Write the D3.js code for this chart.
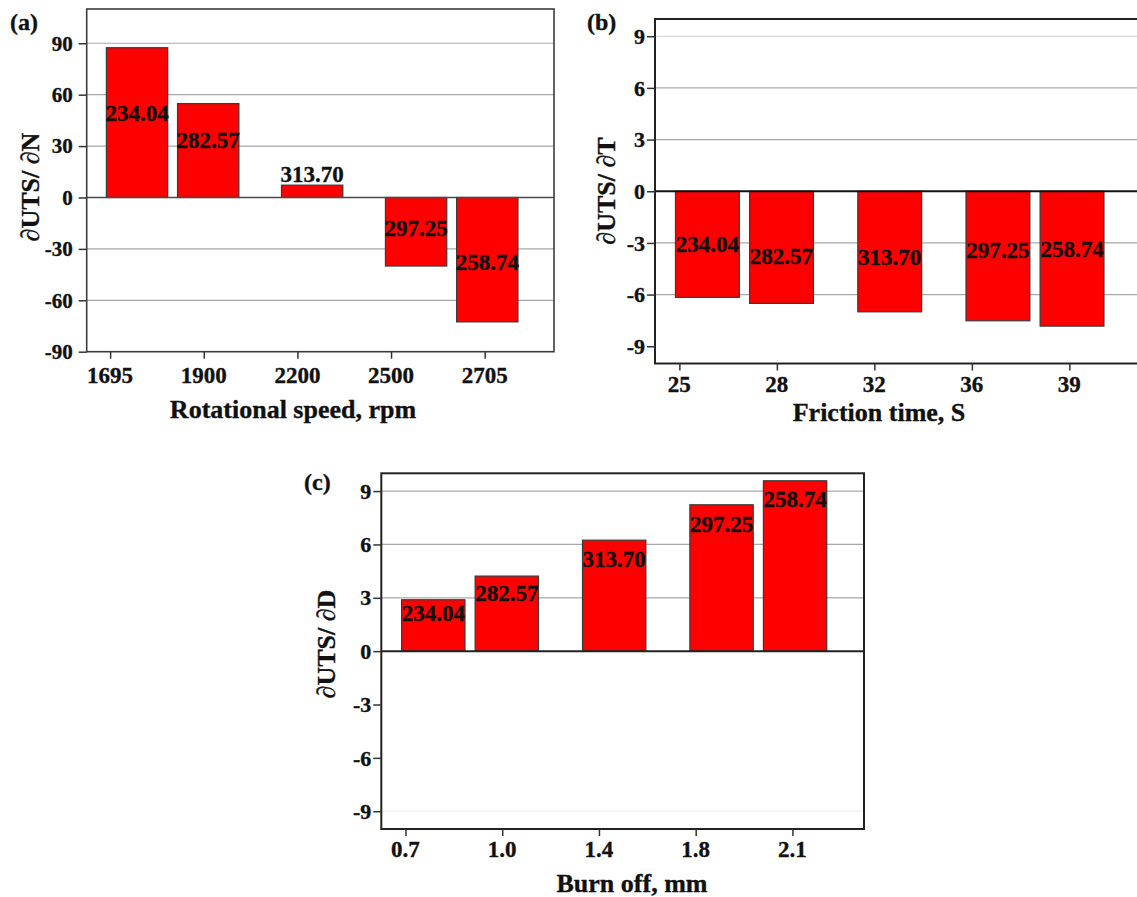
<!DOCTYPE html>
<html>
<head>
<meta charset="utf-8">
<script src="https://cdn.jsdelivr.net/npm/d3@7"></script>
<style>
  body { margin: 0; background: #fff; }
  svg { display: block; }
  text { font-family: "Liberation Serif", "Times New Roman", serif; font-weight: bold; fill: #111; stroke: #111; stroke-width: 0.35px; }
</style>
</head>
<body>
<svg id="fig" width="1137" height="897"></svg>
<script>
// UTS values written on the bars (same five runs in every panel)
const utsLabels = ["234.04", "282.57", "313.70", "297.25", "258.74"];

// (a) sensitivity to rotational speed
const speedCats = ["1695", "1900", "2200", "2500", "2705"];
const speedSens = [87.4, 54.8, 7.2, -40.0, -72.6];
const speedLabelAt = [49.4, 33.5, 13.8, -17.8, -37.9];
const speedTicks = [-90, -60, -30, 0, 30, 60, 90];

// (b) sensitivity to friction time
const timeCats = ["25", "28", "32", "36", "39"];
const timeSens = [-6.16, -6.51, -7.0, -7.52, -7.83];
const timeLabelAt = [-3.08, -3.76, -3.80, -3.41, -3.37];

// (c) sensitivity to burn off
const burnCats = ["0.7", "1.0", "1.4", "1.8", "2.1"];
const burnSens = [2.89, 4.22, 6.24, 8.23, 9.58];
const burnLabelAt = [2.14, 3.26, 5.17, 7.17, 8.55];

const unitTicks = [-9, -6, -3, 0, 3, 6, 9];

// ---- layout ----
const SX = 1.0;                                   // horizontal text stretch
const xDomain = [-0.25, 4.74];                    // category axis in tick units
const barSlots = [-0.04, 0.72, 1.83, 2.94, 3.70]; // left edge of each bar, tick units
const barSpan = 0.655;

const GRID = "#a9a9a9";

const panels = [
  {
    tag: "(a)", tagX: 10, tagY: 30,
    left: 86.7, right: 554, top: 9, bottom: 351.7,
    yDomain: [-90, 110], ticks: speedTicks,
    cats: speedCats, values: speedSens, labelAt: speedLabelAt,
    grid: [{v: 90, c: GRID}, {v: 60, c: GRID}, {v: 30, c: GRID}, {v: -30, c: GRID}, {v: -60, c: GRID}],
    zero: {c: "#4a4a4a", w: 1.6},
    frame: {c: "#3c3c3c", w: 1.6},
    yPad: 14, yFont: 21,
    xLabelDy: 31, xFont: 23,
    xTitle: "Rotational speed, rpm", xTitleX: 293, xTitleY: 418,
    yTitle: "\u2202UTS/ \u2202N", yTitleX: 30, yTitleY: 187
  },
  {
    tag: "(b)", tagX: 587, tagY: 30,
    left: 655, right: 1141.5, top: 19, bottom: 363.5,
    yDomain: [-10, 10], ticks: unitTicks,
    cats: timeCats, values: timeSens, labelAt: timeLabelAt,
    grid: [{v: 9, c: "#d2d2d2"}, {v: 6, c: GRID}, {v: 3, c: GRID}, {v: -3, c: GRID}, {v: -6, c: GRID}],
    zero: {c: "#111", w: 2.2},
    frame: {c: "#222", w: 2},
    yPad: 10, yFont: 22,
    xLabelDy: 28, xFont: 23,
    xTitle: "Friction time, S", xTitleX: 879, xTitleY: 421,
    yTitle: "\u2202UTS/ \u2202T", yTitleX: 606, yTitleY: 191
  },
  {
    tag: "(c)", tagX: 304, tagY: 490,
    left: 381.3, right: 864, top: 473.3, bottom: 829,
    yDomain: [-10, 10], ticks: unitTicks,
    cats: burnCats, values: burnSens, labelAt: burnLabelAt,
    grid: [{v: 9, c: GRID}, {v: 6, c: GRID}, {v: 3, c: GRID}, {v: -9, c: "#eeeeee"}],
    zero: {c: "#222", w: 2},
    frame: {c: "#222", w: 2},
    yPad: 10, yFont: 22,
    xLabelDy: 28, xFont: 23,
    xTitle: "Burn off, mm", xTitleX: 632, xTitleY: 892,
    yTitle: "\u2202UTS/ \u2202D", yTitleX: 326, yTitleY: 644
  }
];

const svg = d3.select("#fig");
svg.append("rect").attr("width", 1137).attr("height", 897).attr("fill", "#fff");

function putText(g, x, y, str, size, anchor, rotated) {
  return g.append("text")
    .attr("transform", rotated
      ? `translate(${x},${y}) rotate(-90) scale(1,${SX})`
      : `translate(${x},${y}) scale(${SX},1)`)
    .attr("text-anchor", anchor)
    .attr("font-size", size)
    .text(str);
}

function drawPanel(p) {
  const g = svg.append("g");
  const x = d3.scaleLinear().domain(xDomain).range([p.left, p.right]);
  const y = d3.scaleLinear().domain(p.yDomain).range([p.bottom, p.top]);

  // horizontal reference lines
  g.selectAll("line.grid").data(p.grid).join("line")
    .attr("class", "grid")
    .attr("x1", p.left).attr("x2", p.right)
    .attr("y1", d => y(d.v)).attr("y2", d => y(d.v))
    .attr("stroke", d => d.c).attr("stroke-width", 1.2);

  // bars
  g.selectAll("rect.bar").data(p.values).join("rect")
    .attr("class", "bar")
    .attr("x", (d, i) => x(barSlots[i]))
    .attr("width", (d, i) => x(barSlots[i] + barSpan) - x(barSlots[i]))
    .attr("y", d => y(Math.max(0, d)))
    .attr("height", d => Math.abs(y(d) - y(0)))
    .attr("fill", "#ff0000")
    .attr("stroke", "#3a3a3a")
    .attr("stroke-width", 1.2);

  // zero line
  g.append("line")
    .attr("x1", p.left).attr("x2", p.right)
    .attr("y1", y(0)).attr("y2", y(0))
    .attr("stroke", p.zero.c).attr("stroke-width", p.zero.w);

  // frame
  g.append("rect")
    .attr("x", p.left).attr("y", p.top)
    .attr("width", p.right - p.left).attr("height", p.bottom - p.top)
    .attr("fill", "none").attr("stroke", p.frame.c).attr("stroke-width", p.frame.w);

  // axis ticks
  const ay = g.append("g").attr("transform", `translate(${p.left},0)`)
    .call(d3.axisLeft(y).tickValues(p.ticks).tickSize(8).tickFormat(""));
  ay.select(".domain").remove();
  ay.selectAll("line").attr("stroke", "#333").attr("stroke-width", 1.5);

  const ax = g.append("g").attr("transform", `translate(0,${p.bottom})`)
    .call(d3.axisBottom(x).tickValues([0, 1, 2, 3, 4]).tickSize(7).tickFormat(""));
  ax.select(".domain").remove();
  ax.selectAll("line").attr("stroke", "#333").attr("stroke-width", 1.5);

  // tick labels
  p.ticks.forEach(v => {
    putText(g, p.left - p.yPad, y(v), String(v), p.yFont, "end").attr("dy", "0.35em");
  });
  p.cats.forEach((c, i) => {
    putText(g, x(i), p.bottom + p.xLabelDy, c, p.xFont, "middle");
  });

  // value labels on bars
  p.values.forEach((d, i) => {
    putText(g, x(barSlots[i] + barSpan / 2), y(p.labelAt[i]), utsLabels[i], 23, "middle")
      .attr("dy", "0.35em");
  });

  // titles
  putText(g, p.xTitleX, p.xTitleY, p.xTitle, 26, "middle");
  putText(g, p.yTitleX, p.yTitleY, p.yTitle, 26, "middle", true).attr("dy", "0.35em");
  putText(g, p.tagX, p.tagY, p.tag, 24, "start");
}

panels.forEach(drawPanel);
</script>
</body>
</html>
